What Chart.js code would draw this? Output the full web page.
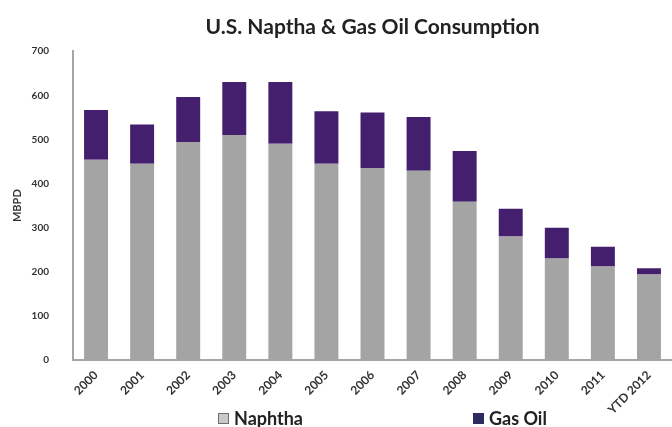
<!DOCTYPE html>
<html>
<head>
<meta charset="utf-8">
<script src="https://cdn.jsdelivr.net/npm/chart.js@4"></script>
<style>
    html, body { margin: 0; padding: 0; background: #ffffff; }
    #wrap { position: relative; width: 672px; height: 427px; overflow: hidden; }
    #legend { position: absolute; top: 407px; left: 0; width: 672px; height: 22px;
              font-family: Lato, 'Open Sans', sans-serif; font-weight: bold; font-size: 18px; color: #222; }
    .item { position: absolute; top: 0; display: flex; align-items: center; }
    .box { width: 11px; height: 11px; margin-right: 5px; box-sizing: border-box; }
</style>
</head>
<body>
<div id="wrap">
    <canvas id="chart"></canvas>
    <div id="legend">
        <div class="item" style="left:218px"><span class="box" style="background:#c9c9c9;border:1px solid #6e6e6e"></span>Naphtha</div>
        <div class="item" style="left:473px"><span class="box" style="background:#2e2b5f"></span>Gas Oil</div>
    </div>
</div>
<script>
// U.S. naphtha & gas oil consumption, thousand barrels per day
const years = ['2000', '2001', '2002', '2003', '2004', '2005', '2006',
               '2007', '2008', '2009', '2010', '2011', 'YTD 2012'];
const naphtha = [454, 445, 494, 510, 490, 445, 435, 429, 359, 280, 230, 212, 194];
const gasOil = [113, 89, 102, 120, 140, 119, 126, 122, 115, 63, 70, 45, 14];
const yTicks = [0, 100, 200, 300, 400, 500, 600, 700];

const fontFamily = "Lato, 'Open Sans', sans-serif";
const axisColor = '#a6a6a6';
const textColor = '#333333';

const ctx = document.getElementById('chart').getContext('2d');

new Chart(ctx, {
    type: 'bar',
    data: {
        labels: years,
        datasets: [
            {
                label: 'Naphtha',
                data: naphtha,
                backgroundColor: '#a4a4a4',
                borderWidth: 0,
                categoryPercentage: 1,
                barPercentage: 0.52
            },
            {
                label: 'Gas Oil',
                data: gasOil,
                backgroundColor: '#431f6e',
                borderWidth: 0,
                categoryPercentage: 1,
                barPercentage: 0.52
            }
        ]
    },
    options: {
        responsive: true,
        maintainAspectRatio: false,
        animation: false,
        layout: {
            padding: { left: 11, right: 0, top: 0, bottom: 2 }
        },
        plugins: {
            legend: { display: false },
            tooltip: { enabled: false },
            title: {
                display: true,
                text: 'U.S. Naptha & Gas Oil Consumption',
                fullSize: false,
                color: '#222222',
                font: { family: fontFamily, size: 21, weight: 'bold' },
                padding: { top: 15, bottom: 11 }
            }
        },
        scales: {
            x: {
                stacked: true,
                grid: { display: false, drawTicks: false },
                border: { color: axisColor, width: 2 },
                ticks: {
                    color: textColor,
                    font: { family: fontFamily, size: 12, weight: 'bold' },
                    minRotation: 45,
                    maxRotation: 45,
                    padding: 8
                }
            },
            y: {
                stacked: true,
                min: 0,
                max: 700,
                afterBuildTicks: (scale) => {
                    scale.ticks = yTicks.map(v => ({ value: v }));
                },
                afterFit: (scale) => {
                    scale.width = 62; // axis line lands near x = 73
                },
                grid: { display: false, drawTicks: false },
                border: { color: axisColor, width: 2 },
                ticks: {
                    color: textColor,
                    font: { family: fontFamily, size: 10, weight: 'bold' },
                    padding: 24
                },
                title: {
                    display: true,
                    text: 'MBPD',
                    color: textColor,
                    font: { family: fontFamily, size: 11, weight: 'bold' },
                    padding: { top: 0, bottom: 4 }
                }
            }
        }
    }
});
</script>
</body>
</html>
